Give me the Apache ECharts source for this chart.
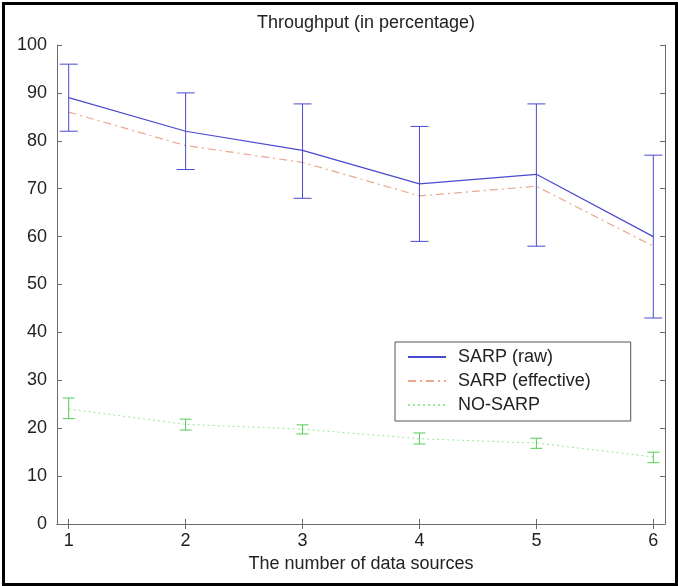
<!DOCTYPE html>
<html>
<head>
<meta charset="utf-8">
<script src="https://cdn.jsdelivr.net/npm/echarts@6/dist/echarts.min.js"></script>
<style>
  html, body { margin: 0; padding: 0; background: #fff; }
  #frame { position: absolute; left: 2px; top: 2px; width: 670px; height: 578px; border: 3px solid #000; }
  #chart { position: absolute; left: 0; top: 0; width: 678px; height: 586px; }
</style>
</head>
<body>
<div id="frame"></div>
<div id="chart"></div>
<script>
// data
const sources = [1, 2, 3, 4, 5, 6];
const sarpRaw = [89, 82, 78, 71, 73, 60];
const sarpRawLow = [82, 74, 68, 59, 58, 43];
const sarpRawHigh = [96, 90, 87.7, 83, 87.7, 77];
const sarpEffective = [86, 79, 75.5, 68.5, 70.5, 58];
const noSarp = [24, 20.8, 19.8, 17.8, 16.9, 14];
const noSarpLow = [22, 19.6, 18.8, 16.7, 15.8, 12.8];
const noSarpHigh = [26.3, 21.9, 20.7, 19, 17.9, 15];
const yTicks = [0, 10, 20, 30, 40, 50, 60, 70, 80, 90, 100];

const FONT = "Liberation Sans";
const pairs = (ys) => sources.map((x, i) => [x, ys[i]]);
const errData = (lo, hi) => sources.map((x, i) => [x, lo[i], hi[i]]);

function errorBar(color, halfCap) {
  return function (params, api) {
    const x = api.value(0);
    const lo = api.coord([x, api.value(1)]);
    const hi = api.coord([x, api.value(2)]);
    const style = { stroke: color, lineWidth: 1 };
    return {
      type: 'group',
      children: [
        { type: 'line', shape: { x1: lo[0], y1: lo[1], x2: hi[0], y2: hi[1] }, style },
        { type: 'line', shape: { x1: lo[0] - halfCap, y1: lo[1], x2: lo[0] + halfCap, y2: lo[1] }, style },
        { type: 'line', shape: { x1: hi[0] - halfCap, y1: hi[1], x2: hi[0] + halfCap, y2: hi[1] }, style }
      ]
    };
  };
}

const chart = echarts.init(document.getElementById('chart'));
const axisColor = '#6a6a6a';
const labelStyle = { color: '#222', fontFamily: FONT, fontSize: 18 };

chart.setOption({
  animation: false,
  textStyle: { fontFamily: FONT },
  title: {
    text: 'Throughput (in percentage)',
    left: 361, top: 9, textAlign: 'center',
    textStyle: { fontFamily: FONT, fontSize: 18, fontWeight: 'normal', color: '#222' }
  },
  grid: { left: 57, right: 13, top: 45, bottom: 62 },
  legend: {
    orient: 'vertical',
    left: 395, top: 342,
    data: ['SARP (raw)', 'SARP (effective)', 'NO-SARP'],
    itemWidth: 38, itemHeight: 14, itemGap: 6,
    padding: [6, 40, 7, 12],
    itemStyle: { opacity: 0 },
    borderColor: '#555', borderWidth: 1, backgroundColor: '#fff',
    textStyle: { fontFamily: FONT, fontSize: 18, color: '#222', padding: [0, 0, 0, 7] }
  },
  xAxis: [{
    type: 'value', min: 0.9, max: 6.1,
    name: 'The number of data sources', nameLocation: 'middle', nameGap: 30,
    nameTextStyle: { fontFamily: FONT, fontSize: 18, color: '#222' },
    axisLine: { lineStyle: { color: axisColor } },
    axisTick: { inside: true, length: 5, customValues: sources, lineStyle: { color: axisColor } },
    axisLabel: Object.assign({ margin: 8, customValues: sources }, labelStyle),
    splitLine: { show: false }
  }, {
    type: 'value', min: 0.9, max: 6.1, position: 'top',
    axisLine: { show: true, lineStyle: { color: axisColor } },
    axisTick: { inside: true, length: 5, customValues: sources, lineStyle: { color: axisColor } },
    axisLabel: { show: false },
    splitLine: { show: false }
  }],
  yAxis: [{
    type: 'value', min: 0, max: 100, interval: 10,
    axisLine: { show: true, lineStyle: { color: axisColor } },
    axisTick: { show: true, inside: true, length: 5, lineStyle: { color: axisColor } },
    axisLabel: Object.assign({ margin: 10, customValues: yTicks }, labelStyle),
    splitLine: { show: false }
  }, {
    type: 'value', min: 0, max: 100, interval: 10, position: 'right',
    axisLine: { show: true, lineStyle: { color: axisColor } },
    axisTick: { show: true, inside: true, length: 5, lineStyle: { color: axisColor } },
    axisLabel: { show: false },
    splitLine: { show: false }
  }],
  series: [
    {
      name: 'SARP (raw)', type: 'line', data: pairs(sarpRaw), symbol: 'none',
      lineStyle: { color: '#4a4ad0', width: 1.2 }, itemStyle: { color: '#4a4ad0' }, z: 4
    },
    {
      name: 'SARP (effective)', type: 'line', data: pairs(sarpEffective), symbol: 'none',
      lineStyle: { color: '#eaa892', width: 1.2, type: [8, 4, 2, 4] }, itemStyle: { color: '#eaa892' }, z: 3
    },
    {
      name: 'NO-SARP', type: 'line', data: pairs(noSarp), symbol: 'none',
      lineStyle: { color: '#9be69b', width: 1, type: [2, 3] }, itemStyle: { color: '#9be69b' }, z: 3
    },
    {
      name: 'rawErr', type: 'custom', data: errData(sarpRawLow, sarpRawHigh),
      renderItem: errorBar('#4a4ad0', 9), encode: { x: 0, y: [1, 2] }, z: 5
    },
    {
      name: 'noSarpErr', type: 'custom', data: errData(noSarpLow, noSarpHigh),
      renderItem: errorBar('#55cc55', 6), encode: { x: 0, y: [1, 2] }, z: 5
    }
  ]
});
</script>
</body>
</html>
